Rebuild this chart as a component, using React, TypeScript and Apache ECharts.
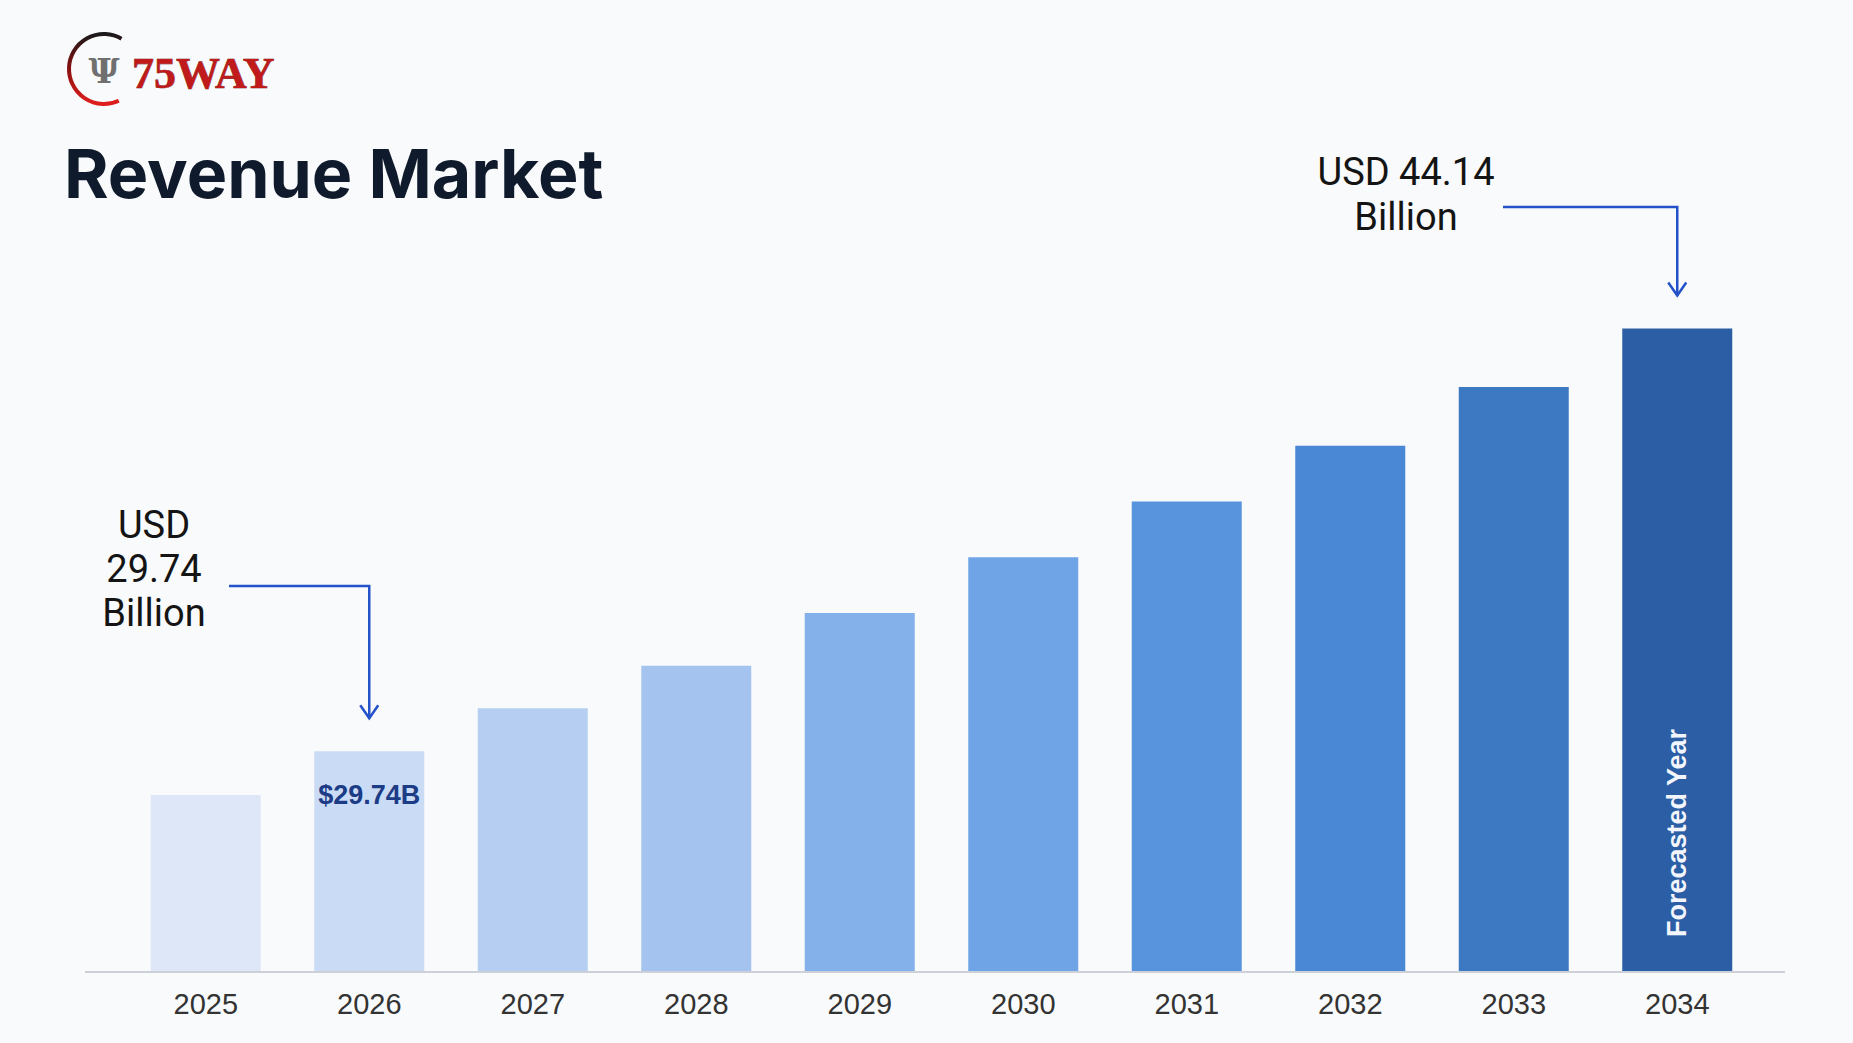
import React, { useEffect, useRef } from "react";
import * as echarts from "echarts";

const years = ["2025", "2026", "2027", "2028", "2029", "2030", "2031", "2032", "2033", "2034"];
const revenue = [28.25, 29.74, 31.2, 32.65, 34.45, 36.35, 38.25, 40.15, 42.15, 44.14];
const barColors = [
  "#dde7f8", "#cadbf5", "#b6cef2", "#a4c3ef", "#84b1ea",
  "#6fa4e6", "#5894dd", "#4a87d4", "#3d78c3", "#2c5ea5",
];
const startIndex = 1;
const endIndex = 9;
const startNote = ["USD", "29.74", "Billion"];
const endNote = ["USD 44.14", "Billion"];
const insideLabel = "$29.74B";
const forecastLabel = "Forecasted Year";
const titleText = "Revenue Market";
const brandText = "75WAY";

export default function App() {
  const ref = useRef<HTMLDivElement>(null);
  useEffect(() => {
    document.body.style.margin = "0";
    const chart = echarts.init(ref.current!, null, { renderer: "svg" });
    chart.setOption({
      animation: false,
      backgroundColor: "#f9fafb",
      grid: { left: 124, right: 94, top: 274, bottom: 72 },
      xAxis: {
        type: "category",
        data: years,
        axisLine: { show: false },
        axisTick: { show: false },
        axisLabel: {
          margin: 18,
          fontSize: 29,
          fontFamily: "Liberation Sans",
          color: "#333333",
        },
      },
      yAxis: {
        type: "value",
        min: 22.25,
        max: 46,
        show: false,
        splitLine: { show: false },
      },
      series: [
        {
          type: "bar",
          barWidth: 110,
          data: revenue.map((v, i) => ({
            value: v,
            itemStyle: { color: barColors[i] },
            label:
              i === startIndex
                ? {
                    show: true,
                    position: "insideTop",
                    distance: 30,
                    formatter: () => insideLabel,
                    fontSize: 27,
                    fontWeight: "bold",
                    fontFamily: "Liberation Sans",
                    color: "#1c3c86",
                  }
                : { show: false },
          })),
        },
      ],
    });

    const px = (i: number, v: number) => chart.convertToPixel({ gridIndex: 0 }, [i, v]) as number[];
    const [sx, sTop] = px(startIndex, revenue[startIndex]);
    const [ex, eTop] = px(endIndex, revenue[endIndex]);
    const [, baseY] = px(0, 22.25);
    const blue = "#2352c9";
    const chev = (x: number, tip: number) => ({
      type: "polyline",
      z: 100,
      shape: { points: [[x - 9, tip - 13], [x, tip], [x + 9, tip - 13]] },
      style: { stroke: blue, lineWidth: 2.5, fill: null },
    });
    const sTip = sTop - 33;
    const eTip = eTop - 33;

    chart.setOption({
      graphic: [
        {
          type: "line",
          z: 0,
          shape: { x1: 85, y1: baseY + 1, x2: 1785, y2: baseY + 1 },
          style: { stroke: "#cdd1d7", lineWidth: 2 },
        },
        // logo
        {
          type: "arc",
          z: 100,
          shape: { cx: 104, cy: 69, r: 35, startAngle: (65 * Math.PI) / 180, endAngle: (300 * Math.PI) / 180, clockwise: true },
          style: {
            stroke: {
              type: "linear", x: 0, y: 0, x2: 0, y2: 1,
              colorStops: [
                { offset: 0, color: "#1a1a1a" },
                { offset: 0.5, color: "#8a1010" },
                { offset: 1, color: "#e01e1e" },
              ],
            },
            lineWidth: 4,
            fill: null,
          },
        },
        {
          type: "text",
          z: 100,
          x: 104,
          y: 71,
          style: {
            text: "Ψ",
            fontSize: 34,
            fontWeight: "bold",
            fontFamily: "DejaVu Serif",
            fill: "#707070",
            align: "center",
            verticalAlign: "middle",
          },
        },
        {
          type: "text",
          z: 100,
          x: 132,
          y: 73,
          style: {
            text: brandText,
            fontSize: 44,
            fontWeight: "bold",
            fontFamily: "Liberation Serif",
            fill: "#c01a1a",
            stroke: "#5a0c0c",
            lineWidth: 0.6,
            align: "left",
            verticalAlign: "middle",
          },
        },
        // title
        {
          type: "text",
          z: 100,
          x: 64,
          y: 173,
          style: {
            text: titleText,
            fontSize: 68,
            fontWeight: "bold",
            fontFamily: "Inter",
            fill: "#0f1a2c",
            align: "left",
            verticalAlign: "middle",
          },
        },
        // start annotation
        {
          type: "text",
          z: 100,
          x: 154,
          y: 569,
          style: {
            text: startNote.join("\n"),
            fontSize: 38,
            lineHeight: 44,
            fontFamily: "Roboto",
            fill: "#141414",
            align: "center",
            verticalAlign: "middle",
          },
        },
        {
          type: "polyline",
          z: 100,
          shape: { points: [[229, 586], [sx, 586], [sx, sTip]] },
          style: { stroke: blue, lineWidth: 2.5, fill: null },
        },
        chev(sx, sTip),
        // end annotation
        {
          type: "text",
          z: 100,
          x: 1406,
          y: 194,
          style: {
            text: endNote.join("\n"),
            fontSize: 38,
            lineHeight: 45,
            fontFamily: "Roboto",
            fill: "#141414",
            align: "center",
            verticalAlign: "middle",
          },
        },
        {
          type: "polyline",
          z: 100,
          shape: { points: [[1503, 207], [ex, 207], [ex, eTip]] },
          style: { stroke: blue, lineWidth: 2.5, fill: null },
        },
        chev(ex, eTip),
        // forecast label
        {
          type: "text",
          z: 100,
          x: ex,
          y: 833,
          rotation: Math.PI / 2,
          style: {
            text: forecastLabel,
            fontSize: 27,
            fontWeight: "bold",
            fontFamily: "Liberation Sans",
            fill: "#f2f6fc",
            align: "center",
            verticalAlign: "middle",
          },
        },
      ],
    });
    return () => chart.dispose();
  }, []);
  return <div ref={ref} style={{ width: 1853, height: 1043 }} />;
}
